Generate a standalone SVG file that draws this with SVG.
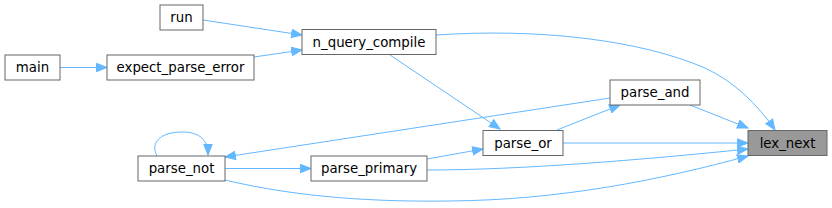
<svg xmlns="http://www.w3.org/2000/svg" width="832" height="208" viewBox="0 0 832 208">
<style>
.n rect{fill:#ffffff;stroke:#666666;stroke-width:1}
.n.hl rect{fill:#999999}
.n text{font-family:"DejaVu Sans","Liberation Sans",sans-serif;font-size:13.33px;fill:#000000;text-anchor:middle}
.e path{fill:none;stroke:#63b8ff;stroke-width:1;marker-end:url(#arr)}
</style>
<defs>
<marker id="arr" markerUnits="userSpaceOnUse" markerWidth="12" markerHeight="10" refX="11" refY="5" orient="auto">
<path d="M0.5,0.8 L11,5 L0.5,9.2 z" fill="#63b8ff" stroke="#63b8ff" stroke-width="1"/>
</marker>
</defs>
<rect width="832" height="208" fill="#ffffff"/>
<g id="edges" class="e">
<path d="M203,20 L302,35"/>
<path d="M254,57 L302,50"/>
<path d="M60,67.5 L107,67.5"/>
<path d="M436,35 C540,28 640,40 705,68 C735,82 758,105 775,130"/>
<path d="M390,55 L500,129"/>
<path d="M610,98 L225,157"/>
<path d="M690,105 L748,128"/>
<path d="M557,130 L620,105"/>
<path d="M563,143 L748,143"/>
<path d="M427,159 L483,149"/>
<path d="M427,170 C520,170 640,160 748,149"/>
<path d="M157,156 C150,143 160,132 182,132 C200,132 208,140 208,155"/>
<path d="M225,168.5 L311,168.5"/>
<path d="M225,180 C300,198 380,202 450,201 C560,200 660,180 748,156"/>
</g>
<g id="run" class="n"><rect x="160" y="5" width="43" height="25"/><text x="181.5" y="22">run</text></g>
<g id="n_query_compile" class="n"><rect x="302" y="29.5" width="134" height="25"/><text x="369" y="46.5">n_query_compile</text></g>
<g id="main" class="n"><rect x="5" y="55" width="55" height="25"/><text x="32.5" y="72">main</text></g>
<g id="expect_parse_error" class="n"><rect x="107" y="55" width="147" height="25"/><text x="180.5" y="72">expect_parse_error</text></g>
<g id="parse_and" class="n"><rect x="610" y="80" width="90" height="25"/><text x="655" y="97">parse_and</text></g>
<g id="parse_or" class="n"><rect x="483" y="130.5" width="80" height="25"/><text x="523" y="147.5">parse_or</text></g>
<g id="lex_next" class="n hl"><rect x="748" y="130.5" width="79" height="25"/><text x="787.5" y="147.5">lex_next</text></g>
<g id="parse_not" class="n"><rect x="138" y="156" width="87" height="25"/><text x="181.5" y="173">parse_not</text></g>
<g id="parse_primary" class="n"><rect x="311" y="156" width="116" height="25"/><text x="369" y="173">parse_primary</text></g>
</svg>
